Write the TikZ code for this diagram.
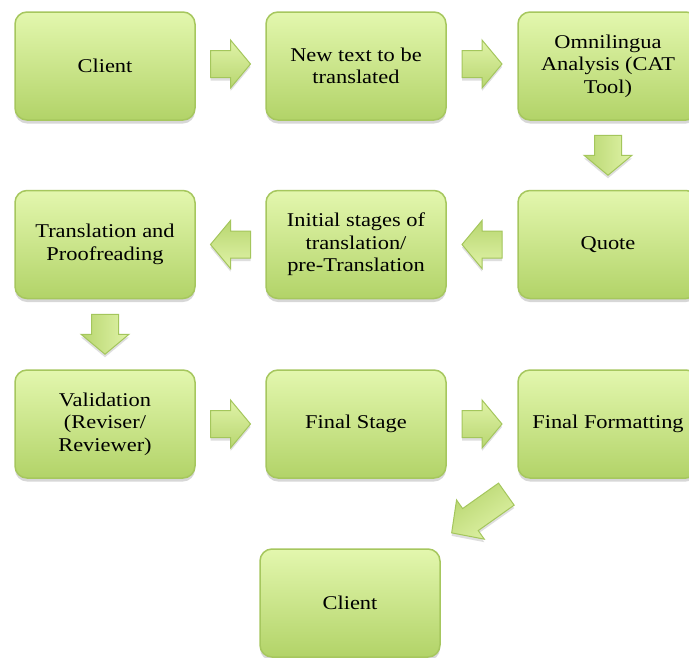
\documentclass[tikz,border=0pt]{standalone}
\usepackage{fontspec}
\setmainfont{Liberation Serif}[FakeStretch=1.15]
\usetikzlibrary{calc,shadows}
\definecolor{boxtop}{RGB}{227,247,174}
\definecolor{boxbot}{RGB}{178,211,104}
\definecolor{boxline}{RGB}{166,199,94}
\definecolor{arrtop}{RGB}{224,243,168}
\definecolor{arrbot}{RGB}{184,214,112}
\definecolor{arrline}{RGB}{164,198,92}
\tikzset{
  stepbox/.style={rounded corners=12pt, draw=boxline, line width=1.5pt,
    top color=boxtop, bottom color=boxbot,
    minimum width=180pt, minimum height=108pt, inner sep=0pt, align=center,
    font=\fontsize{19.5}{22.5}\selectfont,
    drop shadow={shadow xshift=0pt, shadow yshift=-3.5pt, opacity=0.22, fill=black!70}},
  pics/barrow/.style n args={3}{code={
    \path[draw=arrline, line width=1pt, top color=arrtop, bottom color=arrbot,
      shading angle=#1, rotate=#1,
      drop shadow={shadow xshift=0pt, shadow yshift=-3pt, opacity=0.18, fill=black!70}]
      ({-#2/2},-13.5) -- ({#2/2-#3},-13.5) -- ({#2/2-#3},-24) -- ({#2/2},0)
      -- ({#2/2-#3},24) -- ({#2/2-#3},13.5) -- ({-#2/2},13.5) -- cycle;
  }}
}
\begin{document}
\begin{tikzpicture}[x=1pt,y=-1pt]
\useasboundingbox[fill=white] (0,0) rectangle (689,657);
\node[stepbox] (c1) at (105,66) {Client};
\node[stepbox] (newtext) at (356,66) {New text to be\\translated};
\node[stepbox] (analysis) at (608,66) {Omnilingua\\Analysis (CAT\\Tool)};
\node[stepbox] (quote) at (608,244.5) {Quote};
\node[stepbox] (initial) at (356,244.5) {Initial stages of\\translation/\\pre-Translation};
\node[stepbox] (transl) at (105,244.5) {Translation and\\Proofreading};
\node[stepbox] (valid) at (105,424) {Validation\\(Reviser/\\Reviewer)};
\node[stepbox] (finalst) at (356,424) {Final Stage};
\node[stepbox] (format) at (608,424) {Final Formatting};
\node[stepbox] (client2) at (350,603) {Client};
\pic at ($(c1.east)!0.5!(newtext.west)+(0,-2)$) {barrow={0}{40}{20}};
\pic at ($(newtext.east)!0.5!(analysis.west)+(0,-2)$) {barrow={0}{40}{20}};
\pic at ($(analysis.south)!0.5!(quote.north)$) {barrow={-90}{40}{20}};
\pic at ($(quote.west)!0.5!(initial.east)$) {barrow={180}{40}{20}};
\pic at ($(initial.west)!0.5!(transl.east)$) {barrow={180}{40}{20}};
\pic at ($(transl.south)!0.5!(valid.north)$) {barrow={-90}{40}{20}};
\pic at ($(valid.east)!0.5!(finalst.west)$) {barrow={0}{40}{20}};
\pic at ($(finalst.east)!0.5!(format.west)$) {barrow={0}{40}{20}};
\pic at ($(format.south west)!0.5!(client2.north east)$) {barrow={215.3}{67}{23}};
\end{tikzpicture}
\end{document}
